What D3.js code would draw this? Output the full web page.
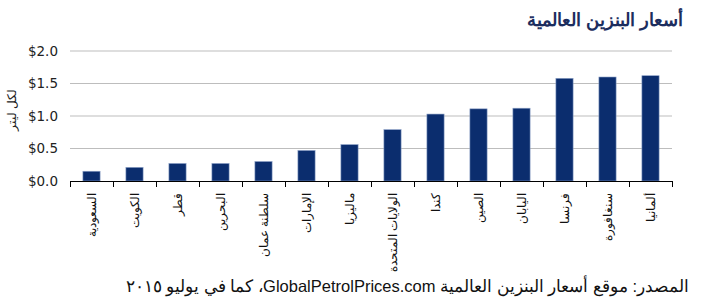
<!DOCTYPE html>
<html>
<head>
<meta charset="utf-8">
<script src="https://cdn.jsdelivr.net/npm/d3@7"></script>
<style>
  body { margin: 0; background: #fff; }
  svg { display: block; }
</style>
</head>
<body>
<div id="chart"></div>
<script>
// data
const countries = ["السعودية", "الكويت", "قطر", "البحرين", "سلطنة عمان", "الإمارات", "ماليزيا",
  "الولايات المتحدة", "كندا", "الصين", "اليابان", "فرنسا", "سنغافورة", "ألمانيا"];
const prices = [0.15, 0.21, 0.27, 0.27, 0.30, 0.47, 0.56, 0.79, 1.03, 1.11, 1.12, 1.58, 1.60, 1.62];
const yTicks = [0, 0.5, 1.0, 1.5, 2.0];

const width = 707, height = 306;
const margin = { left: 70, right: 35, top: 51, bottom: 125 };

const svg = d3.select('#chart').append('svg')
    .attr('width', width)
    .attr('height', height);

const x = d3.scaleBand()
    .domain(countries)
    .range([margin.left, width - margin.right])
    .paddingInner(0.6)
    .paddingOuter(0.3);

const y = d3.scaleLinear()
    .domain([0, 2])
    .range([height - margin.bottom, margin.top]);

// title
svg.append('text')
    .attr('x', 683)
    .attr('y', 26)
    .attr('direction', 'rtl')
    .attr('text-anchor', 'start')
    .attr('font-family', 'Liberation Sans, Arial, sans-serif')
    .attr('font-weight', 'bold')
    .attr('font-size', 18)
    .attr('fill', '#1c2d5e')
    .text('أسعار البنزين العالمية');

// gridlines
svg.append('g')
    .selectAll('line')
    .data(yTicks.filter(d => d > 0))
    .enter().append('line')
    .attr('x1', margin.left)
    .attr('x2', width - margin.right)
    .attr('y1', d => y(d))
    .attr('y2', d => y(d))
    .attr('stroke', '#bdbdbd')
    .attr('stroke-width', 1);

// y axis labels
const yAxis = svg.append('g')
    .attr('transform', `translate(${margin.left},0)`)
    .call(d3.axisLeft(y).tickValues(yTicks).tickSize(0).tickPadding(12)
        .tickFormat(d => '$' + d3.format('.1f')(d)));
yAxis.select('.domain').remove();
yAxis.selectAll('text')
    .attr('font-family', 'DejaVu Sans, Verdana, sans-serif')
    .attr('font-size', 13.5)
    .attr('fill', '#222');

svg.append('text')
    .attr('transform', 'translate(16,110) rotate(-90)')
    .attr('text-anchor', 'middle')
    .attr('font-family', 'Liberation Sans, Arial, sans-serif')
    .attr('font-size', 11.5)
    .attr('fill', '#222')
    .text('لكل ليتر');

// bars
svg.append('g')
    .selectAll('rect')
    .data(prices)
    .enter().append('rect')
    .attr('x', (d, i) => x(countries[i]))
    .attr('width', x.bandwidth())
    .attr('y', d => y(d))
    .attr('height', d => y(0) - y(d))
    .attr('fill', '#0b2d6e')
    .attr('stroke', '#8fa3c8')
    .attr('stroke-width', 0.6);

// x axis: line with ticks at band boundaries
const y0 = y(0);
const step = x.step();
const start = x.range()[0];
svg.append('line')
    .attr('x1', start).attr('x2', x.range()[1])
    .attr('y1', y0 + 0.5).attr('y2', y0 + 0.5)
    .attr('stroke', '#000').attr('stroke-width', 1.2);
svg.append('g')
    .selectAll('line')
    .data(d3.range(countries.length + 1))
    .enter().append('line')
    .attr('x1', i => start + i * step + 0.5)
    .attr('x2', i => start + i * step + 0.5)
    .attr('y1', y0)
    .attr('y2', y0 + 6)
    .attr('stroke', '#000');

svg.append('g')
    .selectAll('text')
    .data(countries)
    .enter().append('text')
    .attr('transform', d => `translate(${x(d) + x.bandwidth() / 2 + 4},${y0 + 12}) rotate(-90)`)
    .attr('text-anchor', 'end')
    .attr('font-family', 'Liberation Sans, Arial, sans-serif')
    .attr('font-size', 11.5)
    .attr('fill', '#111')
    .text(d => d);

// source note
svg.append('text')
    .attr('x', 689)
    .attr('y', 292)
    .attr('direction', 'rtl')
    .attr('text-anchor', 'start')
    .attr('font-family', 'Liberation Sans, Arial, sans-serif')
    .attr('font-size', 16.5)
    .attr('fill', '#111')
    .text('المصدر: موقع أسعار البنزين العالمية GlobalPetrolPrices.com، كما في يوليو ٢٠١٥');
</script>
</body>
</html>
